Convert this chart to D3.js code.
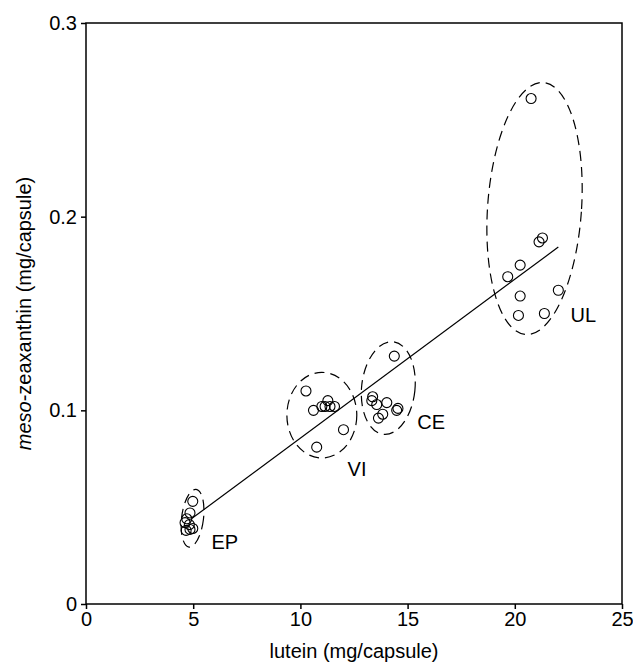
<!DOCTYPE html>
<html>
<head>
<meta charset="utf-8">
<script src="https://cdn.jsdelivr.net/npm/d3@7"></script>
<style>
  body { margin: 0; background: #fff; }
  svg text { font-family: "Liberation Sans", Arial, sans-serif; fill: #000; }
</style>
</head>
<body>
<div id="chart"></div>
<script>
// lutein (x) vs meso-zeaxanthin (y), mg per capsule, one array per product
const epLutein = [4.98, 4.85, 4.70, 4.62, 4.82, 4.98, 4.67, 4.85];
const epMeso   = [0.053, 0.047, 0.044, 0.042, 0.041, 0.039, 0.038, 0.0385];

const viLutein = [10.26, 10.61, 11.00, 11.15, 11.28, 11.38, 11.59, 12.01, 10.76];
const viMeso   = [0.110, 0.100, 0.102, 0.102, 0.105, 0.102, 0.102, 0.090, 0.081];

const ceLutein = [14.38, 13.37, 13.33, 13.56, 14.03, 14.49, 14.55, 13.84, 13.64];
const ceMeso   = [0.128, 0.107, 0.105, 0.103, 0.104, 0.100, 0.101, 0.098, 0.096];

const ulLutein = [20.76, 21.29, 21.13, 20.25, 19.67, 20.25, 22.03, 20.17, 21.38];
const ulMeso   = [0.261, 0.189, 0.187, 0.175, 0.169, 0.159, 0.162, 0.149, 0.150];

// regression line end points
const fitLutein = [4.93, 22.03];
const fitMeso   = [0.0441, 0.1843];

// group outlines (centre, radii in data units, tilt in degrees) and labels
const groupNames   = ["EP", "VI", "CE", "UL"];
const groupCx      = [4.97, 11.0, 14.1, 20.92];
const groupCy      = [0.0443, 0.0975, 0.1115, 0.2042];
const groupRx      = [0.51, 1.63, 1.245, 2.19];
const groupRy      = [0.015, 0.0221, 0.024, 0.0652];
const groupTilt    = [7, 0, 6, 4];
const labelLutein  = [5.85, 12.2, 15.45, 22.6];
const labelMeso    = [0.0285, 0.066, 0.0905, 0.1455];

const xTicks = [0, 5, 10, 15, 20, 25];
const yTicks = [0, 0.1, 0.2, 0.3];

const width = 633, height = 666;
const margin = {top: 23, left: 86, right: 11, bottom: 62};
const plotW = width - margin.left - margin.right;
const plotH = height - margin.top - margin.bottom;

const svg = d3.select("#chart").append("svg")
    .attr("width", width)
    .attr("height", height);

const plot = svg.append("g")
    .attr("transform", `translate(${margin.left}, ${margin.top})`);

const xScale = d3.scaleLinear().domain([0, 25]).range([0, plotW]);
const yScale = d3.scaleLinear().domain([0, 0.3]).range([plotH, 0]);

// frame
plot.append("rect")
    .attr("width", plotW)
    .attr("height", plotH)
    .attr("fill", "none")
    .attr("stroke", "#000")
    .attr("stroke-width", 1.5);

const xAxis = plot.append("g")
    .attr("transform", `translate(0, ${plotH})`)
    .call(d3.axisBottom(xScale).tickValues(xTicks).tickSize(5).tickPadding(3).tickFormat(d3.format("d")));
const yAxis = plot.append("g")
    .call(d3.axisLeft(yScale).tickValues(yTicks).tickSize(5).tickPadding(4).tickFormat(d => d === 0 ? "0" : d3.format(".1f")(d)));

[xAxis, yAxis].forEach(a => {
    a.select(".domain").remove();
    a.selectAll("line").attr("stroke", "#000").attr("stroke-width", 1.5);
    a.selectAll("text").style("font-size", "20px").attr("fill", "#000");
});

// dashed group outlines
const groups = groupNames.map((name, i) => ({
    name,
    cx: groupCx[i], cy: groupCy[i], rx: groupRx[i], ry: groupRy[i], tilt: groupTilt[i],
    lx: labelLutein[i], ly: labelMeso[i]
}));

plot.selectAll(".outline")
    .data(groups)
    .join("ellipse")
    .attr("class", "outline")
    .attr("cx", d => xScale(d.cx))
    .attr("cy", d => yScale(d.cy))
    .attr("rx", d => xScale(d.rx) - xScale(0))
    .attr("ry", d => yScale(0) - yScale(d.ry))
    .attr("transform", d => `rotate(${d.tilt}, ${xScale(d.cx)}, ${yScale(d.cy)})`)
    .attr("fill", "none")
    .attr("stroke", "#000")
    .attr("stroke-width", 1.2)
    .attr("stroke-dasharray", "10,6");

plot.selectAll(".group-label")
    .data(groups)
    .join("text")
    .attr("class", "group-label")
    .attr("x", d => xScale(d.lx))
    .attr("y", d => yScale(d.ly))
    .style("font-size", "20px")
    .text(d => d.name);

// regression line
const fit = fitLutein.map((x, i) => ({x, y: fitMeso[i]}));
plot.append("path")
    .attr("d", d3.line().x(d => xScale(d.x)).y(d => yScale(d.y))(fit))
    .attr("fill", "none")
    .attr("stroke", "#000")
    .attr("stroke-width", 1.2);

// points
const points = [
    [epLutein, epMeso], [viLutein, viMeso], [ceLutein, ceMeso], [ulLutein, ulMeso]
].flatMap(([xs, ys]) => xs.map((x, i) => ({x, y: ys[i]})));

plot.selectAll(".pt")
    .data(points)
    .join("circle")
    .attr("class", "pt")
    .attr("cx", d => xScale(d.x))
    .attr("cy", d => yScale(d.y))
    .attr("r", 5)
    .attr("fill", "none")
    .attr("stroke", "#000")
    .attr("stroke-width", 1.1);

// axis titles
svg.append("text")
    .attr("x", margin.left + plotW / 2)
    .attr("y", 658)
    .attr("text-anchor", "middle")
    .style("font-size", "20px")
    .text("lutein (mg/capsule)");

const yTitle = svg.append("text")
    .attr("transform", `translate(31, ${margin.top + plotH / 2}) rotate(-90)`)
    .attr("text-anchor", "middle")
    .style("font-size", "20px");
yTitle.append("tspan").style("font-style", "italic").text("meso");
yTitle.append("tspan").text("-zeaxanthin (mg/capsule)");
</script>
</body>
</html>
